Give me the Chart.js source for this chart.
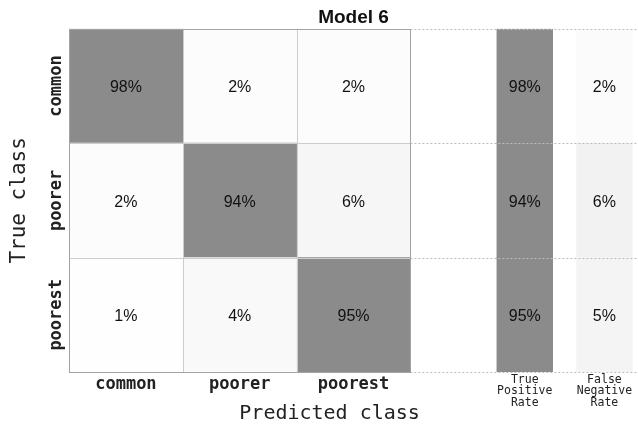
<!DOCTYPE html>
<html>
<head>
<meta charset="utf-8">
<title>Model 6</title>
<script src="https://cdn.jsdelivr.net/npm/chart.js@4.4.0/dist/chart.umd.min.js"></script>
<style>
  html, body { margin: 0; padding: 0; background: #fff; }
  #wrap { width: 638px; height: 428px; }
</style>
</head>
<body>
<div id="wrap"><canvas id="matrixChart" width="638" height="428"></canvas></div>
<script>
// Confusion matrix (percent). Rows = true class, columns = predicted class
const classes = ["common", "poorer", "poorest"];
const commonRow = [98, 2, 2];
const poorerRow = [2, 94, 6];
const poorestRow = [1, 4, 95];
const truePositiveRate = [98, 94, 95];
const falseNegativeRate = [2, 6, 5];
const summaryLabels = [["True", "Positive", "Rate"], ["False", "Negative", "Rate"]];

const matrix = [commonRow, poorerRow, poorestRow];

// where each column sits on the x scale (one unit per matrix column)
const matrixCols = [[0, 1], [1, 2], [2, 3]];
const summaryCols = [[3.76, 4.25], [4.46, 4.95]];
const tickSpots = [0.5, 1.5, 2.5, 4.005, 4.705];
const xTickLabels = classes.concat(summaryLabels);

const darkGray = "#8b8b8b";
const monoFont = "'DejaVu Sans Mono', monospace";

function matrixShade(v) {
  if (v >= 50) return darkGray;
  const g = Math.round(255 - v * 1.5);
  return "rgb(" + g + "," + g + "," + g + ")";
}

function fnrShade(v) {
  const g = Math.round(255 - v * 2.2);
  return "rgb(" + g + "," + g + "," + g + ")";
}

const datasets = [];

matrixCols.forEach(function (col, j) {
  const values = matrix.map(function (row) { return row[j]; });
  datasets.push({
    label: classes[j],
    data: classes.map(function () { return col; }),
    values: values,
    backgroundColor: values.map(matrixShade),
    borderWidth: 0
  });
});

datasets.push({
  label: "True Positive Rate",
  data: classes.map(function () { return summaryCols[0]; }),
  values: truePositiveRate,
  backgroundColor: truePositiveRate.map(function () { return darkGray; }),
  borderWidth: 0
});

datasets.push({
  label: "False Negative Rate",
  data: classes.map(function () { return summaryCols[1]; }),
  values: falseNegativeRate,
  backgroundColor: falseNegativeRate.map(fnrShade),
  borderWidth: 0
});

// Cell lines, percentages, row labels and x title
const matrixDecor = {
  id: "matrixDecor",
  afterDatasetsDraw: function (chart) {
    const ctx = chart.ctx;
    const x = chart.scales.x;
    const y = chart.scales.y;
    const top = chart.chartArea.top;
    const bottom = chart.chartArea.bottom;
    const left = x.getPixelForValue(0);
    const mRight = x.getPixelForValue(3);

    ctx.save();

    // dotted row lines on the summary side
    ctx.strokeStyle = "#bdbdbd";
    ctx.lineWidth = 1;
    ctx.setLineDash([2, 2]);
    for (let i = 0; i <= classes.length; i++) {
      const py = Math.round(y.getPixelForValue(i - 0.5)) + 0.5;
      ctx.beginPath();
      ctx.moveTo(mRight, py);
      ctx.lineTo(chart.chartArea.right, py);
      ctx.stroke();
    }
    ctx.setLineDash([]);

    // inner cell lines
    ctx.strokeStyle = "#cdcdcd";
    for (let i = 1; i < classes.length; i++) {
      const py = Math.round(y.getPixelForValue(i - 0.5)) + 0.5;
      ctx.beginPath();
      ctx.moveTo(left, py);
      ctx.lineTo(mRight, py);
      ctx.stroke();
      const px = Math.round(x.getPixelForValue(i)) + 0.5;
      ctx.beginPath();
      ctx.moveTo(px, top);
      ctx.lineTo(px, bottom);
      ctx.stroke();
    }

    // outer frame
    ctx.strokeStyle = "#a3a3a3";
    ctx.strokeRect(Math.round(left) + 0.5, Math.round(top) + 0.5,
      Math.round(mRight - left), Math.round(bottom - top));

    // percentages
    ctx.fillStyle = "#111";
    ctx.font = "16px 'Liberation Sans', Arial, sans-serif";
    ctx.textAlign = "center";
    ctx.textBaseline = "middle";
    chart.data.datasets.forEach(function (ds, d) {
      const meta = chart.getDatasetMeta(d);
      meta.data.forEach(function (bar, i) {
        const cx = (bar.x + bar.base) / 2;
        ctx.fillText(ds.values[i] + "%", cx, bar.y + 2);
      });
    });

    // rotated row labels
    ctx.fillStyle = "#222";
    ctx.font = "bold 17px " + monoFont;
    classes.forEach(function (name, i) {
      ctx.save();
      ctx.translate(left - 12, y.getPixelForValue(i));
      ctx.rotate(-Math.PI / 2);
      ctx.fillText(name, 0, 0);
      ctx.restore();
    });

    // x axis title
    ctx.font = "20px " + monoFont;
    ctx.fillStyle = "#222";
    ctx.fillText("Predicted class", x.getPixelForValue(2.29), 414);

    ctx.restore();
  }
};

const matrixChart = document.getElementById("matrixChart");

new Chart(matrixChart, {
  type: "bar",
  data: {
    labels: classes,
    datasets: datasets
  },
  plugins: [matrixDecor],
  options: {
    responsive: false,
    animation: false,
    indexAxis: "y",
    grouped: false,
    barPercentage: 1,
    categoryPercentage: 1,
    layout: { padding: 0 },
    plugins: {
      legend: { display: false },
      tooltip: { enabled: false },
      title: {
        display: true,
        text: "Model 6",
        fullSize: false,
        color: "#111",
        font: { family: "'Liberation Sans', Arial, sans-serif", size: 19, weight: "bold", lineHeight: 1.2 },
        padding: { top: 6, bottom: 0 }
      }
    },
    scales: {
      x: {
        type: "linear",
        min: 0,
        max: 5,
        grid: { display: false, drawTicks: false },
        border: { display: false },
        afterBuildTicks: function (scale) {
          scale.ticks = tickSpots.map(function (v) { return { value: v }; });
        },
        afterFit: function (scale) {
          scale.height = 56;
        },
        ticks: {
          autoSkip: false,
          maxRotation: 0,
          padding: 2,
          color: "#222",
          callback: function (value, index) {
            return xTickLabels[index];
          },
          font: function (ctx) {
            if (ctx.index < 3) {
              return { family: monoFont, size: 17, weight: "bold" };
            }
            return { family: monoFont, size: 11.5, lineHeight: 1.0 };
          }
        }
      },
      y: {
        type: "category",
        grid: { display: false },
        border: { display: false },
        ticks: { display: false },
        afterFit: function (scale) {
          scale.width = 69;
        },
        title: {
          display: true,
          text: "True class",
          color: "#222",
          font: { family: monoFont, size: 21 },
          padding: { top: 7, bottom: 0 }
        }
      }
    }
  }
});
</script>
</body>
</html>
